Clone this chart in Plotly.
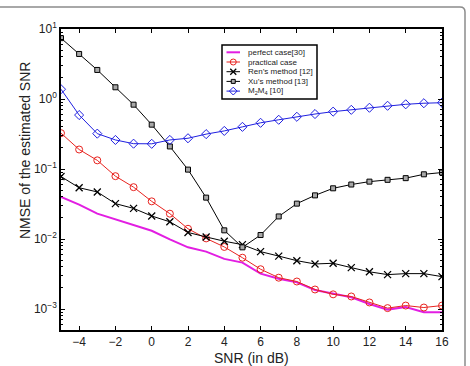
import plotly.graph_objects as go

snr = list(range(-5, 17))

perfect = [0.040, 0.031, 0.023, 0.019, 0.016, 0.0131, 0.0099, 0.0076, 0.0066, 0.0052,
           0.0046, 0.0032, 0.0027, 0.0024, 0.00187, 0.00165, 0.00147, 0.00118, 0.00098,
           0.00107, 0.00090, 0.00090]
practical = [0.325, 0.19, 0.133, 0.079, 0.055, 0.0345, 0.023, 0.014, 0.0102, 0.0077,
             0.0054, 0.0037, 0.0028, 0.00247, 0.0019, 0.00162, 0.00151, 0.00124, 0.00103,
             0.00112, 0.00105, 0.00112]
ren = [0.078, 0.054, 0.047, 0.032, 0.0274, 0.0213, 0.0176, 0.0124, 0.0107, 0.0093,
       0.0083, 0.0066, 0.0057, 0.0049, 0.0044, 0.0045, 0.0039, 0.0034, 0.0031, 0.0032,
       0.0032, 0.0029]
xu = [7.4, 4.4, 2.6, 1.47, 0.83, 0.43, 0.21, 0.098, 0.039, 0.0133, 0.0076, 0.0114,
      0.021, 0.032, 0.042, 0.053, 0.060, 0.066, 0.070, 0.074, 0.084, 0.089]
m2m4 = [1.38, 0.59, 0.32, 0.26, 0.23, 0.229, 0.26, 0.275, 0.315, 0.35, 0.40, 0.457,
        0.505, 0.557, 0.61, 0.66, 0.70, 0.75, 0.80, 0.84, 0.87, 0.885]

names = ["perfect case[30]", "practical case", "Ren\u2019s method [12]",
         "Xu\u2019s method [13]", "M<sub>2</sub>M<sub>4</sub> [10]"]
series = [perfect, practical, ren, xu, m2m4]

x_ticks = list(range(-4, 17, 2))
y_exps = [-3, -2, -1, 0, 1]
y_tickvals = [10.0 ** e for e in y_exps]
y_ticktext = ["10<sup>%s</sup>" % (str(e).replace("-", "\u2212")) for e in y_exps]

FONT = "Liberation Sans, Arial, sans-serif"
TXT = "#222"

styles = [
    dict(mode="lines", line=dict(color="#e21ee2", width=2), marker=None),
    dict(mode="lines+markers", line=dict(color="#e8231f", width=1),
         marker=dict(symbol="circle-open", size=7, color="#e8231f", line=dict(width=1))),
    dict(mode="lines+markers", line=dict(color="black", width=1),
         marker=dict(symbol="x-thin-open", size=7, color="black", line=dict(width=1.3, color="black"))),
    dict(mode="lines+markers", line=dict(color="black", width=1),
         marker=dict(symbol="square", size=5, color="#a8a8a8", line=dict(width=1, color="black"))),
    dict(mode="lines+markers", line=dict(color="#1f1fe0", width=1),
         marker=dict(symbol="diamond-open", size=7, color="#1f1fe0", line=dict(width=1))),
]

fig = go.Figure()
for name, ys, st in zip(names, series, styles):
    kw = dict(mode=st["mode"], line=st["line"])
    if st["marker"] is not None:
        kw["marker"] = st["marker"]
    fig.add_trace(go.Scatter(x=snr, y=ys, name=name, showlegend=False, **kw))

# plot-area pixel frame
L, R, T, B = 61, 442, 29, 330
def px(x):
    return (x - L) / (R - L)
def py(y):
    return (B - y) / (B - T)

# manual compact legend drawn on an overlay pixel axis
leg_box = (222, 317, 45, 99)
row0, row_gap = 52.3, 9.7
samp_x0, samp_x1, text_x = 226.5, 240, 246
for i, (name, st) in enumerate(zip(names, styles)):
    yy = row0 + i * row_gap
    fig.add_trace(go.Scatter(x=[samp_x0, samp_x1], y=[yy, yy], mode="lines",
                             line=st["line"], xaxis="x2", yaxis="y2",
                             showlegend=False, hoverinfo="skip"))
    if st["marker"] is not None:
        m = dict(st["marker"])
        m["size"] = max(m["size"] - 1, 4)
        fig.add_trace(go.Scatter(x=[(samp_x0 + samp_x1) / 2], y=[yy], mode="markers",
                                 marker=m, xaxis="x2", yaxis="y2",
                                 showlegend=False, hoverinfo="skip"))
    fig.add_annotation(x=text_x, y=yy, xref="x2", yref="y2", text=name,
                       showarrow=False, xanchor="left", yanchor="middle",
                       font=dict(size=8, family=FONT, color=TXT))
fig.add_shape(type="rect", xref="x2", yref="y2", x0=leg_box[0], x1=leg_box[1],
              y0=leg_box[2], y1=leg_box[3], line=dict(color="black", width=1.5),
              fillcolor="white", layer="below")

# outer rounded frame (top and right edges visible)
path = (f"M {px(-10)},{py(7)} L {px(460)},{py(7)} Q {px(465)},{py(7)} {px(465)},{py(12)} "
        f"L {px(465)},{py(372)}")
fig.add_shape(type="path", xref="paper", yref="paper", path=path,
              line=dict(color="#8c8c8c", width=1.5), layer="below")

# axis titles
fig.add_annotation(x=px(25), y=py(151), xref="paper", yref="paper",
                   text="NMSE of the estimated SNR", textangle=-90, showarrow=False,
                   xanchor="center", yanchor="middle",
                   font=dict(size=14, family=FONT, color=TXT))
fig.add_annotation(x=0.5, y=py(358), xref="paper", yref="paper",
                   text="SNR (in dB)", showarrow=False,
                   xanchor="center", yanchor="middle",
                   font=dict(size=14, family=FONT, color=TXT))

fig.update_layout(
    width=470, height=366,
    margin=dict(l=L, r=470 - R, t=T, b=366 - B),
    paper_bgcolor="white", plot_bgcolor="white",
    font=dict(family=FONT, color=TXT, size=12),
    showlegend=False,
    xaxis2=dict(overlaying="x", range=[L, R], visible=False, fixedrange=True),
    yaxis2=dict(overlaying="y", range=[B, T], visible=False, fixedrange=True),
)
fig.layout.xaxis.update(range=[-5, 16], tickvals=x_ticks, ticks="inside", ticklen=4,
                        tickcolor="black",
                        showline=True, linecolor="black", linewidth=1.5, mirror="ticks",
                        showgrid=False, zeroline=False,
                        tickfont=dict(size=12, family=FONT, color=TXT))
fig.layout.yaxis.update(type="log", range=[-3.3, 1], tickvals=y_tickvals, ticktext=y_ticktext,
                        ticks="inside", ticklen=4, tickcolor="black",
                        minor=dict(ticks="inside", ticklen=2.5, tickcolor="black", showgrid=False,
                                   dtick="D1"),
                        showline=True, linecolor="black", linewidth=1.5, mirror="ticks",
                        showgrid=False, zeroline=False,
                        tickfont=dict(size=12, family=FONT, color=TXT))

fig.write_html("out.html")
